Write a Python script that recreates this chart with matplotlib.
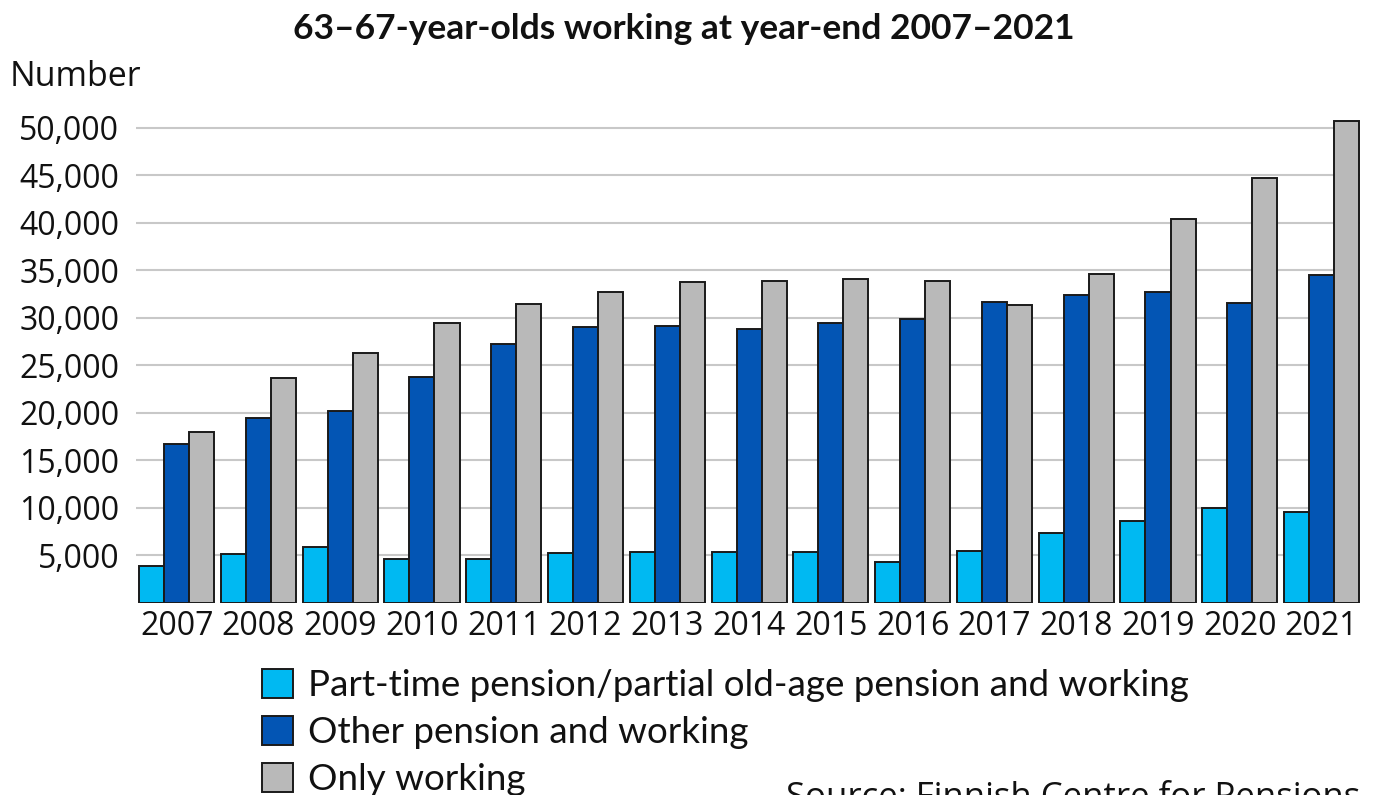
import matplotlib
matplotlib.use("Agg")
import matplotlib.pyplot as plt
import numpy as np

years = ["2007", "2008", "2009", "2010", "2011", "2012", "2013", "2014",
         "2015", "2016", "2017", "2018", "2019", "2020", "2021"]
part_time = [3860, 5090, 5820, 4600, 4630, 5190, 5330, 5300, 5330, 4250,
             5470, 7370, 8560, 10000, 9510]
other_pension = [16670, 19440, 20210, 23750, 27190, 29050, 29120, 28840,
                 29470, 29890, 31680, 32390, 32670, 31500, 34530]
only_working = [17930, 23680, 26300, 29440, 31400, 32740, 33720, 33900,
                34040, 33820, 31300, 34630, 40350, 44670, 50700]
series_names = ["Part-time pension/partial old-age pension and working",
                "Other pension and working",
                "Only working"]
yticks = [5000, 10000, 15000, 20000, 25000, 30000, 35000, 40000, 45000, 50000]

colors = ["#00B9F2", "#0355B4", "#B9B9B9"]
edge = "#1A1A1A"

fig = plt.figure(figsize=(13.74, 7.95), dpi=100)
ax = fig.add_axes([0.0988, 0.2419, 0.8910, 0.6214])

x = np.arange(len(years))
w = 0.306
handles = []
for i, (vals, c, name) in enumerate(zip([part_time, other_pension, only_working], colors, series_names)):
    b = ax.bar(x + (i - 1) * w, vals, width=w, color=c, edgecolor=edge,
               linewidth=1.4, label=name, zorder=3)
    handles.append(b)

ax.set_xlim(-0.5, len(years) - 0.53)
ax.set_ylim(0, 52000)
ax.set_yticks(yticks)
ax.set_yticklabels([f"{v:,}" for v in yticks])
ax.set_xticks(x)
ax.set_xticklabels(years)
ax.yaxis.grid(True, color="#C8C8C8", linewidth=1.5, zorder=0)
ax.set_axisbelow(True)
for s in ax.spines.values():
    s.set_visible(False)
ax.tick_params(axis="both", length=0, labelsize=23, labelcolor="#111111")
ax.tick_params(axis="y", pad=12)
ax.tick_params(axis="x", pad=5)
for lbl in ax.get_xticklabels() + ax.get_yticklabels():
    lbl.set_fontfamily("Open Sans")

fig.text(0.498, 0.964, "63\u201367-year-olds working at year-end 2007\u20132021",
         ha="center", va="center", fontsize=25.5, fontweight="bold",
         family="Lato", color="#111111")
fig.text(0.0073, 0.903, "Number", ha="left", va="center", fontsize=24.5,
         family="Open Sans", color="#111111")

leg = fig.legend(handles=handles, labels=series_names, loc="upper left",
                 bbox_to_anchor=(0.1907, 0.159), frameon=False,
                 prop={"family": "Lato", "size": 26.5},
                 handlelength=0.84, handleheight=0.86, handletextpad=0.4,
                 labelspacing=0.37, borderaxespad=0, borderpad=0)
for t in leg.get_texts():
    t.set_color("#111111")

fig.text(0.990, 1 - 781 / 795, "Source: Finnish Centre for Pensions", ha="right",
         va="top", fontsize=25, family="Open Sans", color="#111111")

fig.savefig("out.png", dpi=100)
